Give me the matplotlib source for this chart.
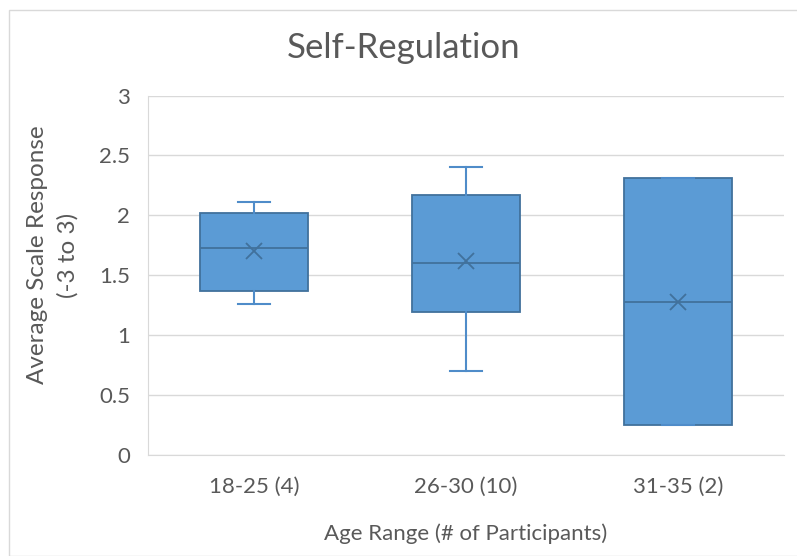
import matplotlib
matplotlib.use("Agg")
import matplotlib.pyplot as plt
from matplotlib.patches import Rectangle

# box plot summary per age group
groups = ["18-25 (4)", "26-30 (10)", "31-35 (2)"]
whisker_low = [1.26, 0.70, 0.25]
q1 = [1.37, 1.19, 0.25]
median = [1.73, 1.60, 1.28]
q3 = [2.02, 2.17, 2.31]
whisker_high = [2.11, 2.40, 2.31]
means = [1.70, 1.62, 1.28]
yticks = [0, 0.5, 1, 1.5, 2, 2.5, 3]

plt.rcParams['font.family'] = ['Lato', 'DejaVu Sans']
text_col = '#595959'
fill = '#5B9BD5'
edge = '#41719C'

W, H = 797, 556
fig = plt.figure(figsize=(W / 100, H / 100), dpi=100)
ax = fig.add_axes([148 / W, 1 - 455 / H, (784 - 148) / W, (455 - 95.5) / H])

stats = []
for i, g in enumerate(groups):
    stats.append(dict(label=g, whislo=whisker_low[i], q1=q1[i], med=median[i],
                      q3=q3[i], whishi=whisker_high[i], mean=means[i], fliers=[]))

ax.bxp(stats, positions=range(len(groups)), widths=0.505, patch_artist=True,
       showmeans=True, showfliers=False,
       boxprops=dict(facecolor=fill, edgecolor=edge, linewidth=1.3),
       medianprops=dict(color=edge, linewidth=1.3),
       whiskerprops=dict(color='#4F8CC9', linewidth=1.5),
       capprops=dict(color='#4F8CC9', linewidth=1.5),
       capwidths=0.147,
       meanprops=dict(marker='x', markeredgecolor=edge, markersize=12,
                      markeredgewidth=1.3))

ax.set_xlim(-0.5, len(groups) - 0.5)
ax.set_ylim(0, 3)
ax.set_yticks(yticks)
ax.set_yticklabels([f"{v:g}" for v in yticks])
ax.yaxis.grid(True, color='#D9D9D9', linewidth=1)
ax.set_axisbelow(True)
for s in ['top', 'right']:
    ax.spines[s].set_visible(False)
ax.spines['left'].set_color('#D9D9D9')
ax.spines['bottom'].set_color('#D9D9D9')
ax.tick_params(length=0, colors=text_col, labelsize=16)
ax.tick_params(axis='y', pad=13)
ax.tick_params(axis='x', pad=16)

ax.set_xlabel("Age Range (# of Participants)", fontsize=16, color=text_col,
              va='center')
ax.xaxis.set_label_coords(0.5, (455 - 534) / 359.5)
ax.set_ylabel("Average Scale Response\n(-3 to 3)", fontsize=17.5, color=text_col,
              linespacing=1.55, va='center')
ax.yaxis.set_label_coords((53 - 148) / 636, (455 - 255) / 359.5)

fig.text(404 / W, 1 - 48 / H, "Self-Regulation", ha='center', va='center',
         fontsize=25, color=text_col)

fig.patches.append(Rectangle((9 / W, 0), 1, 1 - 10 / H, transform=fig.transFigure,
                             fill=False, edgecolor='#D9D9D9', linewidth=1))

fig.savefig("out.png", dpi=100)
